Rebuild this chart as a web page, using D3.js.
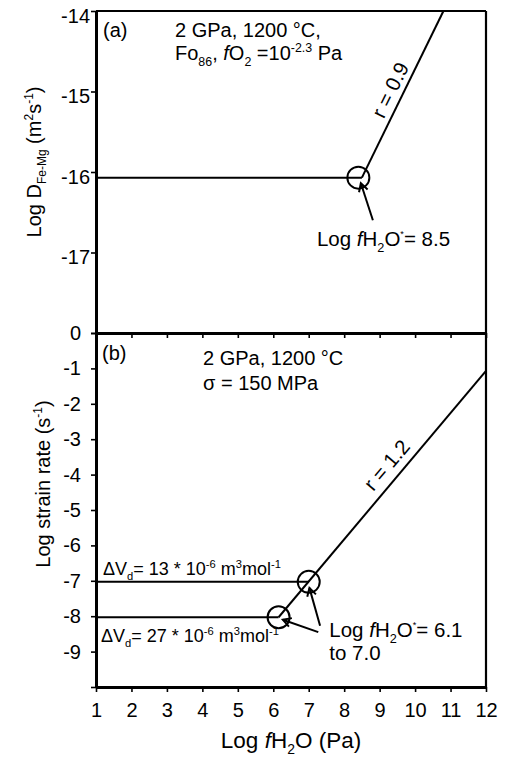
<!DOCTYPE html>
<html>
<head>
<meta charset="utf-8">
<script src="https://cdn.jsdelivr.net/npm/d3@7"></script>
<style>
  body { margin: 0; background: #fff; }
  svg { display: block; font-family: "Liberation Sans", Arial, sans-serif; }
</style>
</head>
<body>
<svg id="chart" width="505" height="757"></svg>
<script>
// ---- data ----
const X_TICKS = [1, 2, 3, 4, 5, 6, 7, 8, 9, 10, 11, 12];
const TOP_Y_TICKS = [-14, -15, -16, -17, -18];
const BOT_Y_TICKS = [0, -1, -2, -3, -4, -5, -6, -7, -8, -9, -10];

// (a) Fe-Mg diffusion
const topFlat = [[1, -16.07], [8.5, -16.07]];
const topSlope = [[8.5, -16.07], [10.8, -14]];      // r = 0.9
const topCircles = [[8.4, -16.07]];
const topArrow = [[8.81, -16.6], [8.47, -16.14]];

// (b) strain rate
const botFlat13 = [[1, -7.03], [7.0, -7.03]];
const botFlat27 = [[1, -8.03], [6.15, -8.03]];
const botSlope = [[6.15, -8.03], [12, -1.07]];       // r = 1.2
const botCircles = [[6.15, -8.03], [7.0, -7.03]];
const botArrows = [
  [[7.32, -8.27], [7.02, -7.2]],
  [[7.27, -8.45], [6.27, -8.1]]
];

// ---- layout ----
const svg = d3.select('#chart');
const L = 96, R = 486, TOP = 11, MID = 333, BOT = 687;

const x = d3.scaleLinear().domain([1, 12]).range([L, R]);
const yTop = d3.scaleLinear().domain([-18, -14]).range([MID, TOP]);
const yBot = d3.scaleLinear().domain([-10, 0]).range([BOT, MID]);

const defs = svg.append('defs');
defs.append('marker')
  .attr('id', 'head')
  .attr('viewBox', '-10 -6 12 12')
  .attr('refX', 0).attr('refY', 0)
  .attr('markerWidth', 12).attr('markerHeight', 12)
  .attr('markerUnits', 'userSpaceOnUse')
  .attr('orient', 'auto')
  .append('path')
    .attr('d', 'M-8,-4.5L0,0L-8,4.5')
    .attr('fill', 'none')
    .attr('stroke', '#000')
    .attr('stroke-width', 2);

// text with sub/superscripts; parts = [text, kind]
function rich(g, px, py, parts, size) {
  const t = g.append('text').attr('x', px).attr('y', py).attr('font-size', size).attr('fill', '#000');
  let shift = 0;
  parts.forEach(([str, kind]) => {
    const s = t.append('tspan').text(str);
    let target = 0;
    if (kind === 'sub') { target = size * 0.28; s.attr('font-size', size * 0.62); }
    else if (kind === 'sup') { target = -size * 0.4; s.attr('font-size', size * 0.62); }
    else if (kind === 'dot') { target = -size * 0.45; s.attr('font-size', size * 0.45); }
    else if (kind === 'i') s.attr('font-style', 'italic');
    if (target !== shift) { s.attr('dy', target - shift); shift = target; }
  });
  return t;
}

function styleAxis(g, w) {
  g.select('.domain').attr('stroke-width', w);
  g.selectAll('.tick line').attr('stroke-width', 1.6);
  g.selectAll('.tick text').attr('font-size', 20).attr('font-family', '"Liberation Sans", Arial, sans-serif');
}

const line = (ys) => d3.line().x(d => x(d[0])).y(d => ys(d[1]));

// ---- panel (a) ----
const ga = svg.append('g');
ga.append('g').attr('transform', `translate(${L},0)`)
  .call(d3.axisLeft(yTop).tickValues(TOP_Y_TICKS).tickSize(5).tickPadding(1).tickSizeOuter(0)
    .tickFormat(d => d === -18 ? '' : d))
  .call(g => styleAxis(g, 3))
  .call(g => g.selectAll('.tick text').attr('dy', '0.55em'));
ga.append('g').attr('transform', `translate(0,${MID})`)
  .call(d3.axisBottom(x).tickValues(X_TICKS).tickSize(5).tickSizeOuter(0).tickFormat(''))
  .call(g => styleAxis(g, 3));
ga.append('line').attr('x1', L).attr('x2', R).attr('y1', TOP).attr('y2', TOP).attr('stroke', '#000').attr('stroke-width', 2.2);
ga.append('line').attr('x1', R).attr('x2', R).attr('y1', TOP).attr('y2', MID).attr('stroke', '#000').attr('stroke-width', 2.2);

ga.append('path').attr('d', line(yTop)(topFlat)).attr('fill', 'none').attr('stroke', '#000').attr('stroke-width', 2);
ga.append('path').attr('d', line(yTop)(topSlope)).attr('fill', 'none').attr('stroke', '#000').attr('stroke-width', 2);
ga.selectAll('circle.pt').data(topCircles).join('circle')
  .attr('class', 'pt').attr('cx', d => x(d[0])).attr('cy', d => yTop(d[1])).attr('r', 11)
  .attr('fill', 'none').attr('stroke', '#000').attr('stroke-width', 2);
ga.append('path').attr('d', line(yTop)(topArrow)).attr('stroke', '#000').attr('stroke-width', 2)
  .attr('fill', 'none').attr('marker-end', 'url(#head)');

rich(ga, 103, 37, [['(a)']], 20);
rich(ga, 175, 37, [['2 GPa, 1200 °C,']], 20);
rich(ga, 175, 60, [['Fo'], ['86', 'sub'], [', '], ['f', 'i'], ['O'], ['2', 'sub'], [' =10'], ['-2.3', 'sup'], [' Pa']], 20);
rich(ga, x(7.23), yTop(-16.92), [['Log '], ['f', 'i'], ['H'], ['2', 'sub'], ['O'], ['*', 'dot'], ['= 8.5']], 20.5);
{
  const a = Math.atan2(yTop(topSlope[0][1]) - yTop(topSlope[1][1]), x(topSlope[1][0]) - x(topSlope[0][0])) * 180 / Math.PI;
  ga.append('text')
    .attr('transform', `translate(${x(9.3)},${yTop(-14.98)}) rotate(${-a})`)
    .attr('text-anchor', 'middle').attr('dy', '0.35em').attr('font-size', 20.5)
    .text('r = 0.9');
}
ga.append('text')
  .attr('transform', `translate(41,162) rotate(-90)`)
  .attr('text-anchor', 'middle').attr('font-size', 20)
  .call(t => {
    t.append('tspan').text('Log D');
    t.append('tspan').text('Fe-Mg').attr('font-size', 12).attr('dy', 5);
    t.append('tspan').text(' (m').attr('dy', -5);
    t.append('tspan').text('2').attr('font-size', 12).attr('dy', -8);
    t.append('tspan').text('s').attr('dy', 8);
    t.append('tspan').text('-1').attr('font-size', 12).attr('dy', -8);
    t.append('tspan').text(')').attr('dy', 8);
  });

// ---- panel (b) ----
const gb = svg.append('g');
gb.append('g').attr('transform', `translate(${L},0)`)
  .call(d3.axisLeft(yBot).tickValues(BOT_Y_TICKS).tickSize(5).tickPadding(10).tickSizeOuter(0)
    .tickFormat(d => d === -10 ? '' : d))
  .call(g => styleAxis(g, 3));
gb.append('g').attr('transform', `translate(0,${BOT})`)
  .call(d3.axisBottom(x).tickValues(X_TICKS).tickSize(5).tickPadding(11).tickSizeOuter(0))
  .call(g => styleAxis(g, 3));
gb.append('line').attr('x1', R).attr('x2', R).attr('y1', MID).attr('y2', BOT).attr('stroke', '#000').attr('stroke-width', 2.2);

[botFlat13, botFlat27, botSlope].forEach(seg => {
  gb.append('path').attr('d', line(yBot)(seg)).attr('fill', 'none').attr('stroke', '#000').attr('stroke-width', 2);
});
gb.selectAll('circle.pt').data(botCircles).join('circle')
  .attr('class', 'pt').attr('cx', d => x(d[0])).attr('cy', d => yBot(d[1])).attr('r', 11)
  .attr('fill', 'none').attr('stroke', '#000').attr('stroke-width', 2);
botArrows.forEach(seg => {
  gb.append('path').attr('d', line(yBot)(seg)).attr('stroke', '#000').attr('stroke-width', 2)
    .attr('fill', 'none').attr('marker-end', 'url(#head)');
});

rich(gb, 102, 360, [['(b)']], 20);
rich(gb, 203, 365, [['2 GPa, 1200 °C']], 20);
rich(gb, 203, 390, [['σ = 150 MPa']], 20);
rich(gb, 103, 575, [['ΔV'], ['d', 'sub'], ['= 13 * 10'], ['-6', 'sup'], [' m'], ['3', 'sup'], ['mol'], ['-1', 'sup']], 18);
rich(gb, 101, 642, [['ΔV'], ['d', 'sub'], ['= 27 * 10'], ['-6', 'sup'], [' m'], ['3', 'sup'], ['mol'], ['-1', 'sup']], 18);
rich(gb, x(7.58), yBot(-8.6), [['Log '], ['f', 'i'], ['H'], ['2', 'sub'], ['O'], ['*', 'dot'], ['= 6.1']], 20.5);
rich(gb, x(7.58), yBot(-9.25), [['to 7.0']], 20.5);
{
  const a = Math.atan2(yBot(botSlope[0][1]) - yBot(botSlope[1][1]), x(botSlope[1][0]) - x(botSlope[0][0])) * 180 / Math.PI;
  gb.append('text')
    .attr('transform', `translate(${x(9.2)},${yBot(-3.73)}) rotate(${-a})`)
    .attr('text-anchor', 'middle').attr('dy', '0.35em').attr('font-size', 20.5)
    .text('r = 1.2');
}
gb.append('text')
  .attr('transform', `translate(50,484) rotate(-90)`)
  .attr('text-anchor', 'middle').attr('font-size', 20)
  .call(t => {
    t.append('tspan').text('Log strain rate (s');
    t.append('tspan').text('-1').attr('font-size', 12).attr('dy', -8);
    t.append('tspan').text(')').attr('dy', 8);
  });

// x axis title
rich(svg, 0, 748, [['Log '], ['f', 'i'], ['H'], ['2', 'sub'], ['O (Pa)']], 22.5)
  .attr('x', x(6.5)).attr('text-anchor', 'middle');
</script>
</body>
</html>
